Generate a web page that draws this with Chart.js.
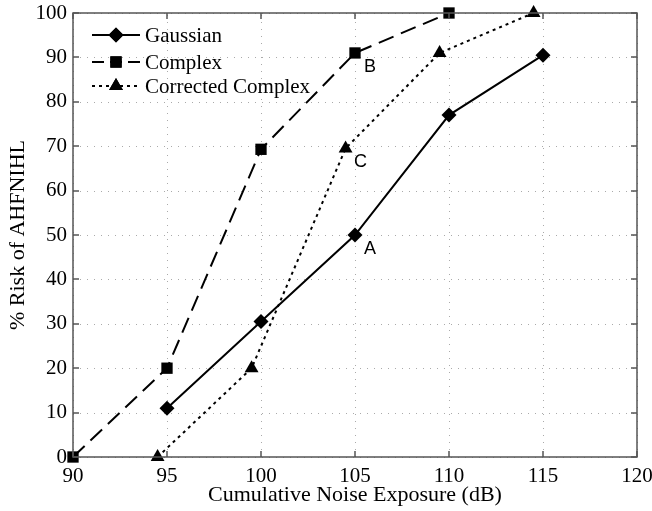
<!DOCTYPE html>
<html>
<head>
<meta charset="utf-8">
<script src="https://cdn.jsdelivr.net/npm/chart.js@4.4.1/dist/chart.umd.min.js"></script>
<style>
html,body{margin:0;padding:0;background:#fff;}
#wrap{width:652px;height:511px;position:relative;}
</style>
</head>
<body>
<div id="wrap"><canvas id="c" width="652" height="511"></canvas></div>
<script>
// Data
const gaussianX = [95, 100, 105, 110, 115];
const gaussianY = [11, 30.5, 50, 77, 90.5];
const complexX = [90, 95, 100, 105, 110];
const complexY = [0, 20, 69.3, 91, 100];
const correctedX = [94.5, 99.5, 104.5, 109.5, 114.5];
const correctedY = [0, 20, 69.5, 91, 100];
const seriesNames = ['Gaussian', 'Complex', 'Corrected Complex'];
const xTicks = [90, 95, 100, 105, 110, 115, 120];
const yTicks = [0, 10, 20, 30, 40, 50, 60, 70, 80, 90, 100];
const pointLabels = [
  {text: 'A', x: 105, y: 50},
  {text: 'B', x: 105, y: 91},
  {text: 'C', x: 104.5, y: 69.5}
];

const toPts = (xs, ys) => xs.map((x, i) => ({x: x, y: ys[i]}));
const SERIF = '"Liberation Serif", "Times New Roman", serif';
const SANS = '"Liberation Sans", Arial, sans-serif';

const styles = [
  {dash: [], point: 'rectRot', r: 7.5},
  {dash: [16, 8], point: 'rect', r: 8},
  {dash: [3, 4], point: 'triangle', r: 8}
];

const gridPlugin = {
  id: 'dottedGrid',
  beforeDatasetsDraw(chart) {
    const {ctx, chartArea: a, scales} = chart;
    ctx.save();
    ctx.strokeStyle = '#aaa';
    ctx.lineWidth = 1;
    ctx.setLineDash([1, 6]);
    ctx.beginPath();
    xTicks.forEach(v => {
      const px = Math.round(scales.x.getPixelForValue(v)) + 0.5;
      ctx.moveTo(px, a.bottom); ctx.lineTo(px, a.top);
    });
    yTicks.forEach(v => {
      const py = Math.round(scales.y.getPixelForValue(v)) + 0.5;
      ctx.moveTo(a.left, py); ctx.lineTo(a.right, py);
    });
    ctx.stroke();
    ctx.restore();
  }
};

const framePlugin = {
  id: 'frame',
  afterDatasetsDraw(chart) {
    const {ctx, chartArea: a, scales} = chart;
    ctx.save();
    ctx.strokeStyle = '#555';
    ctx.lineWidth = 1.5;
    ctx.setLineDash([]);
    ctx.strokeRect(a.left, a.top, a.right - a.left, a.bottom - a.top);
    const tl = 6;
    ctx.beginPath();
    xTicks.forEach(v => {
      const px = Math.round(scales.x.getPixelForValue(v));
      ctx.moveTo(px, a.bottom); ctx.lineTo(px, a.bottom - tl);
      ctx.moveTo(px, a.top); ctx.lineTo(px, a.top + tl);
    });
    yTicks.forEach(v => {
      const py = Math.round(scales.y.getPixelForValue(v));
      ctx.moveTo(a.left, py); ctx.lineTo(a.left + tl, py);
      ctx.moveTo(a.right, py); ctx.lineTo(a.right - tl, py);
    });
    ctx.stroke();

    // point annotations
    ctx.fillStyle = '#000';
    ctx.font = '18px ' + SANS;
    ctx.textAlign = 'center';
    ctx.textBaseline = 'middle';
    pointLabels.forEach(p => {
      const px = scales.x.getPixelForValue(p.x);
      const py = scales.y.getPixelForValue(p.y);
      ctx.fillText(p.text, px + 15, py + 14);
    });

    // legend
    ctx.font = '21px ' + SERIF;
    ctx.textAlign = 'left';
    const lx0 = a.left + 19, lx1 = a.left + 67, tx = a.left + 72;
    const rows = [a.top + 22, a.top + 49, a.top + 73];
    chart.data.datasets.forEach((ds, i) => {
      const y = rows[i];
      ctx.strokeStyle = '#000';
      ctx.lineWidth = 2;
      ctx.setLineDash(i === 1 ? [12, 6] : (i === 2 ? [3, 4] : []));
      ctx.beginPath(); ctx.moveTo(lx0, y); ctx.lineTo(lx1, y); ctx.stroke();
      ctx.setLineDash([]);
      const cx = (lx0 + lx1) / 2;
      ctx.fillStyle = '#000';
      Chart.helpers.drawPoint(ctx, {pointStyle: styles[i].point, radius: styles[i].r, borderWidth: 0, rotation: 0}, cx, y);
      ctx.fill();
      ctx.fillText(ds.label, tx, y + 1);
    });
    ctx.restore();
  }
};

const datasets = [
  toPts(gaussianX, gaussianY),
  toPts(complexX, complexY),
  toPts(correctedX, correctedY)
].map((d, i) => ({
  label: seriesNames[i],
  data: d,
  showLine: true,
  borderColor: '#000',
  backgroundColor: '#000',
  borderWidth: 2,
  borderDash: styles[i].dash,
  pointStyle: styles[i].point,
  pointRadius: styles[i].r,
  pointBorderWidth: 0,
  pointBackgroundColor: '#000',
  tension: 0
}));

new Chart(document.getElementById('c'), {
  type: 'scatter',
  data: {datasets},
  plugins: [gridPlugin, framePlugin],
  options: {
    responsive: false,
    animation: false,
    clip: false,
    layout: {padding: {top: 13, right: 15, left: 0, bottom: 0}},
    plugins: {legend: {display: false}, tooltip: {enabled: false}},
    scales: {
      x: {
        type: 'linear', min: 90, max: 120,
        afterBuildTicks: s => { s.ticks = xTicks.map(v => ({value: v})); },
        afterFit: s => { s.height = 54; s.paddingLeft = 0; s.paddingRight = 0; },
        grid: {display: false, drawTicks: false},
        border: {display: false},
        ticks: {color: '#000', font: {family: SERIF, size: 21}, padding: 7, maxRotation: 0},
        title: {display: true, text: 'Cumulative Noise Exposure (dB)', color: '#000', font: {family: SERIF, size: 22}, padding: {top: 0, bottom: 3}}
      },
      y: {
        type: 'linear', min: 0, max: 100,
        afterBuildTicks: s => { s.ticks = yTicks.map(v => ({value: v})); },
        afterFit: s => { s.width = 73; s.paddingTop = 0; s.paddingBottom = 0; },
        grid: {display: false, drawTicks: false},
        border: {display: false},
        ticks: {color: '#000', font: {family: SERIF, size: 21}, padding: 6},
        title: {display: true, text: '% Risk of AHFNIHL', color: '#000', font: {family: SERIF, size: 22}, padding: {top: 5, bottom: 0}}
      }
    }
  }
});
</script>
</body>
</html>
